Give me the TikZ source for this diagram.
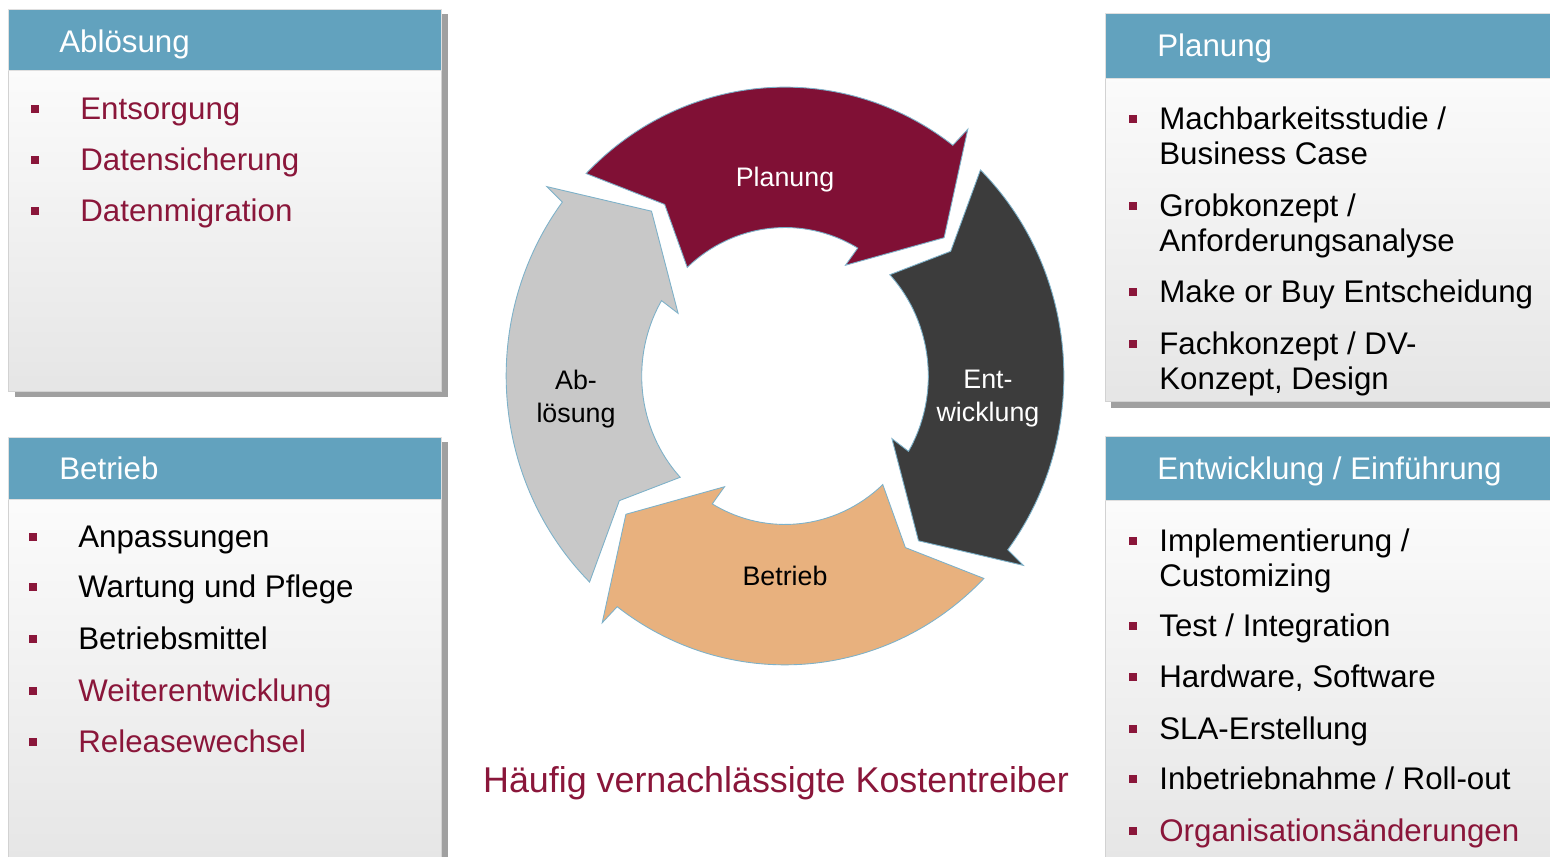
\documentclass[tikz,border=0pt]{standalone}
\usepackage{fontspec}
\setmainfont{Liberation Sans}
\usetikzlibrary{calc}

\definecolor{kopfblau}{RGB}{98,162,190}
\definecolor{weinrot}{RGB}{128,16,53}
\definecolor{textrot}{RGB}{138,22,58}
\definecolor{anthrazit}{RGB}{60,60,60}
\definecolor{sand}{RGB}{232,177,126}
\definecolor{hellgrau}{RGB}{200,200,200}
\definecolor{randblau}{RGB}{125,177,201}
\definecolor{schatten}{RGB}{160,160,160}

\newcommand{\bul}{\textcolor{textrot}{\rule[0.14cm]{0.16cm}{0.16cm}}}

\begin{document}
\begin{tikzpicture}[x=0.02cm,y=0.02cm,
	kasten/.style={draw=gray!35,top color=white,bottom color=gray!20},
	kopf/.style={draw=gray!25,fill=kopfblau},
	titel/.style={anchor=base west,inner sep=0pt,text=white,font=\fontsize{17.8}{21}\selectfont},
	posten/.style={anchor=base west,inner sep=0pt,font=\fontsize{17.8}{21}\selectfont},
	rotschrift/.style={text=textrot},
	pfeil/.style={draw=randblau,line width=0.5pt},
	pfeiltext/.style={align=center,inner sep=0pt,font=\fontsize{15.25}{18.8}\selectfont}]
	\useasboundingbox (0,0) rectangle (1550,857);
	\fill[white] (0,0) rectangle (1550,857);
	\clip (0,0) rectangle (1550,857);

	% Kaesten links
	\fill[schatten] (15,460) rectangle (448,843);
	\draw[kasten] (8,466) rectangle (441,848);
	\draw[kopf] (8,787) rectangle (441,848);
	\node (ablkopf) [titel] at (59,804) {Ablösung};
	\node (abl1) [posten,rotschrift] at (80,737) {\llap{\bul\hspace{0.82cm}}Entsorgung};
	\node (abl2) [posten,rotschrift] at (80,686) {\llap{\bul\hspace{0.82cm}}Datensicherung};
	\node (abl3) [posten,rotschrift] at (80,635) {\llap{\bul\hspace{0.82cm}}Datenmigration};

	\fill[schatten] (15,-10) rectangle (448,415);
	\draw[kasten] (8,-10) rectangle (441,420);
	\draw[kopf] (8,358) rectangle (441,420);
	\node (betkopf) [titel] at (59,377) {Betrieb};
	\node (bet1) [posten] at (78,309) {\llap{\bul\hspace{0.82cm}}Anpassungen};
	\node (bet2) [posten] at (78,259) {\llap{\bul\hspace{0.82cm}}Wartung und Pflege};
	\node (bet3) [posten] at (78,207) {\llap{\bul\hspace{0.82cm}}Betriebsmittel};
	\node (bet4) [posten,rotschrift] at (78,155) {\llap{\bul\hspace{0.82cm}}Weiterentwicklung};
	\node (bet5) [posten,rotschrift] at (78,104) {\llap{\bul\hspace{0.82cm}}Releasewechsel};

	% Kaesten rechts
	\fill[schatten] (1111,449) rectangle (1560,838);
	\draw[kasten] (1105,456) rectangle (1560,844);
	\draw[kopf] (1105,779) rectangle (1560,844);
	\node (plakopf) [titel] at (1157,800) {Planung};
	\node (pla1) [posten] at (1159,727) {\llap{\bul\hspace{0.44cm}}Machbarkeitsstudie /};
	\node (pla1b) [posten] at (1159,692) {Business Case};
	\node (pla2) [posten] at (1159,640) {\llap{\bul\hspace{0.44cm}}Grobkonzept /};
	\node (pla2b) [posten] at (1159,605) {Anforderungsanalyse};
	\node (pla3) [posten] at (1159,554) {\llap{\bul\hspace{0.44cm}}Make or Buy Entscheidung};
	\node (pla4) [posten] at (1159,502) {\llap{\bul\hspace{0.44cm}}Fachkonzept / DV-};
	\node (pla4b) [posten] at (1159,467) {Konzept, Design};

	\fill[schatten] (1111,-10) rectangle (1560,415);
	\draw[kasten] (1105,-10) rectangle (1560,421);
	\draw[kopf] (1105,357) rectangle (1560,421);
	\node (entkopf) [titel] at (1157,377) {Entwicklung / Einführung};
	\node (ent1) [posten] at (1159,305) {\llap{\bul\hspace{0.44cm}}Implementierung /};
	\node (ent1b) [posten] at (1159,270) {Customizing};
	\node (ent2) [posten] at (1159,220) {\llap{\bul\hspace{0.44cm}}Test / Integration};
	\node (ent3) [posten] at (1159,169) {\llap{\bul\hspace{0.44cm}}Hardware, Software};
	\node (ent4) [posten] at (1159,117) {\llap{\bul\hspace{0.44cm}}SLA-Erstellung};
	\node (ent5) [posten] at (1159,67) {\llap{\bul\hspace{0.44cm}}Inbetriebnahme / Roll-out};
	\node (ent6) [posten,rotschrift] at (1159,15) {\llap{\bul\hspace{0.44cm}}Organisationsänderungen};

	% Zyklus
	\begin{scope}[shift={(785,481)},xscale=0.975,yscale=1.01]
		\filldraw[pfeil,fill=weinrot] (135.5:286) arc[start angle=135.5,end angle=53,radius=286] -- (52.5:308) -- (40:213) -- (60.5:126) -- (59.5:147) arc[start angle=59.5,end angle=133,radius=147] -- (126:210) -- cycle;
		\filldraw[pfeil,fill=anthrazit] (45.5:286) arc[start angle=45.5,end angle=-37,radius=286] -- (-37.5:308) -- (-50:213) -- (-29.5:126) -- (-30.5:147) arc[start angle=-30.5,end angle=43,radius=147] -- (36:210) -- cycle;
		\filldraw[pfeil,fill=sand] (-44.5:286) arc[start angle=-44.5,end angle=-127,radius=286] -- (-127.5:308) -- (-140:213) -- (-119.5:126) -- (-120.5:147) arc[start angle=-120.5,end angle=-47,radius=147] -- (-54:210) -- cycle;
		\filldraw[pfeil,fill=hellgrau] (225.5:286) arc[start angle=225.5,end angle=143,radius=286] -- (142.5:308) -- (130:213) -- (150.5:126) -- (149.5:147) arc[start angle=149.5,end angle=223,radius=147] -- (216:210) -- cycle;
	\end{scope}
	\node (planung) [pfeiltext,text=white,anchor=base] at (785,670) {Planung};
	\node (entwicklung) [pfeiltext,text=white] at (988,458) {Ent-\\wicklung};
	\node (betrieb) [pfeiltext,anchor=base] at (785,271) {Betrieb};
	\node (abloesung) [pfeiltext] at (576,458) {Ab-\\lösung};

	\node (fazit) [anchor=base,text=textrot,font=\fontsize{20.4}{24}\selectfont] at (776,64) {Häufig vernachlässigte Kostentreiber};
\end{tikzpicture}
\end{document}
